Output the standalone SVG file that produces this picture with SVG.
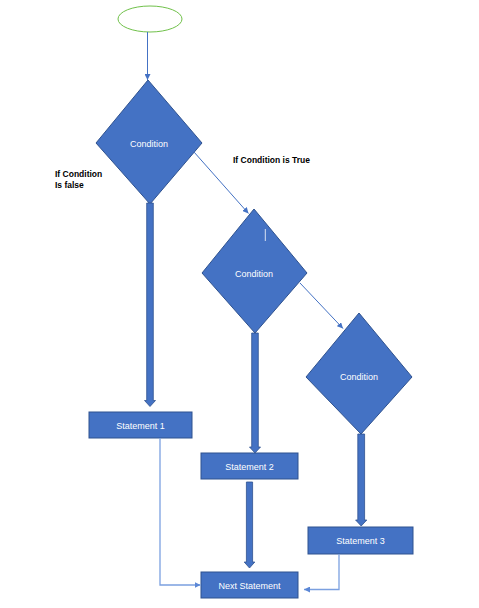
<svg xmlns="http://www.w3.org/2000/svg" width="479" height="608" viewBox="0 0 479 608">
<defs>
<style>
.shape{fill:#4472C4;stroke:#2F528F;stroke-width:1}
.blk{fill:#4472C4;stroke:#2F528F;stroke-width:0.8}
.lbl{font-family:"Liberation Sans",Arial,sans-serif;font-size:9px;fill:#ffffff;text-anchor:middle}
.note{font-family:"Liberation Sans",Arial,sans-serif;font-size:8.5px;font-weight:bold;fill:#000000}
.thin{fill:none;stroke:#4472C4;stroke-width:1}
.light{fill:none;stroke:#7BA0E0;stroke-width:1.3}
</style>
<marker id="ah" viewBox="0 0 10 10" refX="10" refY="5" markerWidth="6" markerHeight="6" markerUnits="userSpaceOnUse" orient="auto">
<path d="M0,0 L10,5 L0,10 z" fill="#4472C4"/>
</marker>
<marker id="ahl" viewBox="0 0 10 10" refX="10" refY="5" markerWidth="6" markerHeight="6" markerUnits="userSpaceOnUse" orient="auto">
<path d="M0,0 L10,5 L0,10 z" fill="#5B87D6"/>
</marker>
</defs>
<rect width="479" height="608" fill="#ffffff"/>

<g id="start">
<ellipse cx="150" cy="19" rx="32" ry="13" fill="none" stroke="#70C14A" stroke-width="1"/>
</g>

<g id="cond1">
<polygon class="shape" points="148,80 202,143 150,204 96,143"/>
<text class="lbl" x="149" y="146.5">Condition</text>
</g>

<g id="cond2">
<polygon class="shape" points="254,209 307,273 255,333 202,273"/>
<text class="lbl" x="254" y="276.5">Condition</text>
<line x1="265.3" y1="229" x2="265.3" y2="241" stroke="#ffffff" stroke-width="0.8"/>
</g>

<g id="cond3">
<polygon class="shape" points="359,313 412,377 361,434 306,377"/>
<text class="lbl" x="359" y="380">Condition</text>
</g>

<g id="stmt1">
<rect class="shape" x="89" y="412" width="103" height="26"/>
<text class="lbl" x="140.5" y="428.5">Statement 1</text>
</g>

<g id="stmt2">
<rect class="shape" x="201" y="453" width="97" height="26"/>
<text class="lbl" x="249.5" y="469.5">Statement 2</text>
</g>

<g id="stmt3">
<rect class="shape" x="308" y="527" width="105" height="27"/>
<text class="lbl" x="360.5" y="543.5">Statement 3</text>
</g>

<g id="next">
<rect class="shape" x="201" y="572" width="97" height="26"/>
<text class="lbl" x="249.5" y="588.5">Next Statement</text>
</g>

<g id="labels">
<text class="note" x="233" y="163">If Condition is True</text>
<text class="note" x="55" y="177">If Condition</text>
<text class="note" x="55" y="188">Is false</text>
</g>

<g id="connectors">
<line class="thin" x1="147.5" y1="32" x2="147.5" y2="80" marker-end="url(#ah)"/>
<line class="thin" x1="194" y1="152" x2="248.5" y2="213.5" marker-end="url(#ah)"/>
<line class="thin" x1="300" y1="283" x2="343" y2="328.5" marker-end="url(#ah)"/>
<polyline class="light" points="160,438 160,585 200.5,585" marker-end="url(#ahl)"/>
<polyline class="light" points="339,554 339,589.5 304,589.5" marker-end="url(#ahl)"/>
<polygon class="blk" points="146.7,203 153.3,203 153.3,400.5 155.5,400.5 150,406.5 144.5,400.5 146.7,400.5"/>
<polygon class="blk" points="251.7,333 258.3,333 258.3,447 260.5,447 255,453 249.5,447 251.7,447"/>
<polygon class="blk" points="357.8,434 364.6,434 364.6,520 366.8,520 361.2,526 355.6,520 357.8,520"/>
<polygon class="blk" points="246.4,482 252.6,482 252.6,562 254.8,562 249.5,568 244.2,562 246.4,562"/>
</g>
</svg>
